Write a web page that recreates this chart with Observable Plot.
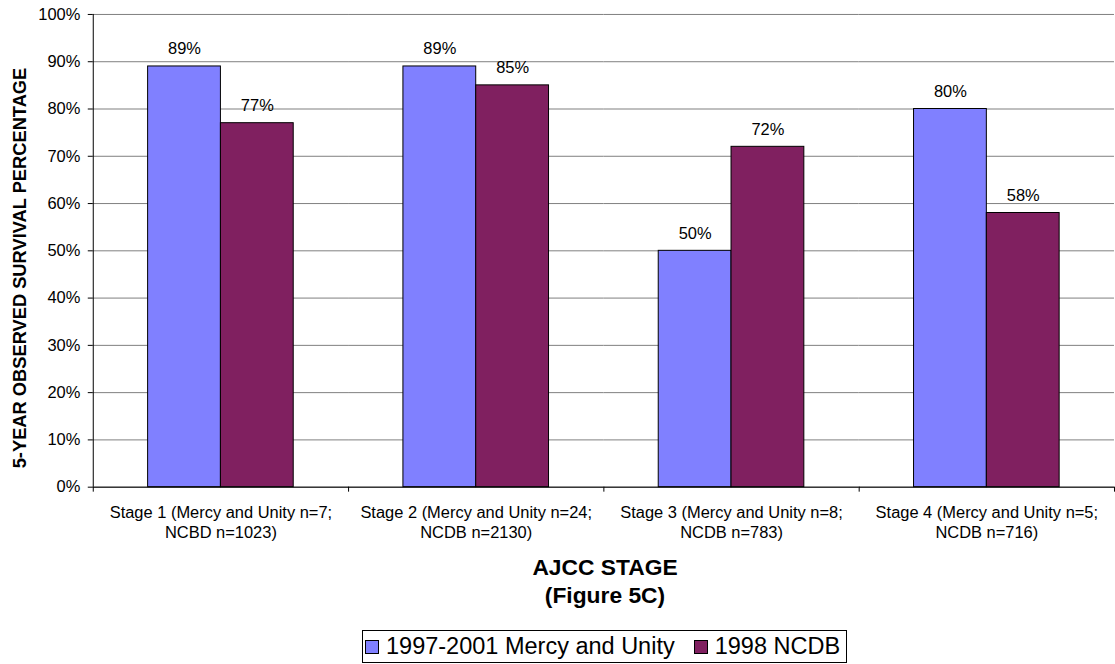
<!DOCTYPE html>
<html>
<head>
<meta charset="utf-8">
<script src="https://cdn.jsdelivr.net/npm/d3@7"></script>
<script src="https://cdn.jsdelivr.net/npm/@observablehq/plot@0.6"></script>
<style>
  html, body { margin: 0; padding: 0; background: #fff; overflow: hidden; }
  #wrap { position: relative; width: 1115px; height: 664px; overflow: hidden; font-family: Arial, "Liberation Sans", sans-serif; color: #000; }
  #chart { position: absolute; left: 0; top: 0; }
  #ytitle { position: absolute; left: -230px; top: 257px; width: 500px; height: 22px; line-height: 22px; text-align: center;
            font-weight: bold; font-size: 18.3px; transform: rotate(-90deg); transform-origin: 50% 50%; white-space: nowrap; }
  #xtitle { position: absolute; left: 93px; top: 553px; width: 1024px; text-align: center; font-weight: bold; font-size: 22.8px; line-height: 28px; }
  #legend { position: absolute; left: 362px; top: 630px; height: 33px; box-sizing: border-box; border: 1px solid #000;
            display: flex; align-items: center; padding: 0 6px 0 2px; font-size: 23.5px; white-space: nowrap; }
  .sw { display: inline-block; width: 14px; height: 14px; box-sizing: border-box; border: 1px solid #000; margin-right: 7px; }
  .item { display: flex; align-items: center; }
</style>
</head>
<body>
<div id="wrap">
  <div id="chart"></div>
  <div id="ytitle">5-YEAR OBSERVED SURVIVAL PERCENTAGE</div>
  <div id="xtitle">AJCC STAGE<br>(Figure 5C)</div>
  <div id="legend"></div>
</div>
<script>
// ---- Data ----
const stages = [
  "Stage 1 (Mercy and Unity n=7;\nNCBD n=1023)",
  "Stage 2 (Mercy and Unity n=24;\nNCDB n=2130)",
  "Stage 3 (Mercy and Unity n=8;\nNCDB n=783)",
  "Stage 4 (Mercy and Unity n=5;\nNCDB n=716)"
];
const seriesNames = ["1997-2001 Mercy and Unity", "1998 NCDB"];
const mercyValues = [89, 89, 50, 80];
const ncdbValues = [77, 85, 72, 58];
const yTicks = [0, 10, 20, 30, 40, 50, 60, 70, 80, 90, 100];
const seriesColors = ["#8080FF", "#802060"];

const rows = [];
stages.forEach((s, i) => {
  rows.push({stage: s, series: seriesNames[0], value: mercyValues[i]});
  rows.push({stage: s, series: seriesNames[1], value: ncdbValues[i]});
});

const plot = Plot.plot({
  width: 1118,
  height: 554,
  marginLeft: 93,
  marginRight: 1,
  marginTop: 14,
  marginBottom: 66,
  style: {fontFamily: "Arial, 'Liberation Sans', sans-serif", fontSize: "16.5px", color: "#000", background: "#fff", overflow: "visible"},
  fx: {domain: stages, padding: 0, label: null, axis: null},
  x: {domain: seriesNames, paddingInner: 0, paddingOuter: 0.741, axis: null},
  y: {domain: [0, 100], label: null, axis: null},
  color: {domain: seriesNames, range: seriesColors},
  marks: [
    Plot.gridY(yTicks, {stroke: "#808080", strokeOpacity: 1, strokeWidth: 1}),
    Plot.axisY(yTicks, {tickFormat: d => d + "%", tickSize: 5, tickPadding: 8, fontSize: 16.5, label: null, stroke: "#000"}),
    Plot.barY(rows, {fx: "stage", x: "series", y: "value", fill: "series", stroke: "#000", strokeWidth: 1}),
    Plot.ruleY([0], {stroke: "#000", strokeWidth: 1}),
    Plot.text(rows, {fx: "stage", x: "series", y: "value", text: d => d.value + "%", lineAnchor: "bottom", dy: -12, fontSize: 16.5, fill: "#000"}),
    Plot.axisFx({anchor: "bottom", tickSize: 0, tickPadding: 16, fontSize: 16.5, lineHeight: 1.25, label: null})
  ]
});

document.getElementById("chart").appendChild(plot);

// y-axis line and category boundary ticks, placed from the library's scales
const fx = plot.scale("fx");
const ys = plot.scale("y");
const y0 = ys.apply(0), y100 = ys.apply(100);
const svg = d3.select(plot);
const g = svg.append("g").attr("stroke", "#000").attr("stroke-width", 1);
const xLeft = fx.range[0];
g.append("line").attr("x1", xLeft + 0.5).attr("x2", xLeft + 0.5).attr("y1", y100).attr("y2", y0);
const bounds = stages.map(s => fx.apply(s)).concat([fx.range[1]]);
bounds.forEach(x => {
  g.append("line").attr("x1", x + 0.5).attr("x2", x + 0.5).attr("y1", y0).attr("y2", y0 + 5);
});

// legend
const legend = d3.select("#legend");
seriesNames.forEach((name, i) => {
  const item = legend.append("div").attr("class", "item").style("margin-right", i === 0 ? "19px" : "0");
  item.append("span").attr("class", "sw").style("background", seriesColors[i]);
  item.append("span").text(name);
});
</script>
</body>
</html>
